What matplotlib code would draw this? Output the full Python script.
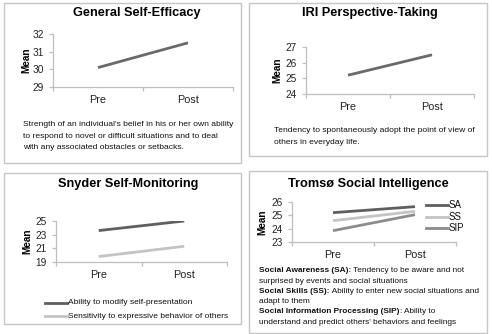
import matplotlib
matplotlib.use("Agg")
import matplotlib.pyplot as plt
from matplotlib.patches import Rectangle

plt.rcParams['font.family'] = ['Liberation Sans', 'DejaVu Sans']

W, H = 492, 334

# data
times = ["Pre", "Post"]

efficacy = [30.1, 31.5]
efficacy_ticks = [29, 30, 31, 32]

perspective = [25.2, 26.5]
perspective_ticks = [24, 25, 26, 27]

monitor_names = ["Ability to modify self-presentation",
                 "Sensitivity to expressive behavior of others"]
monitor_ability = [23.6, 25.0]
monitor_sensitivity = [19.8, 21.3]
monitor_ticks = [19, 21, 23, 25]

tromso_names = ["SA", "SS", "SIP"]
tromso_sa = [25.2, 25.65]
tromso_ss = [24.6, 25.3]
tromso_sip = [23.85, 25.05]
tromso_ticks = [23, 24, 25, 26]

titles = ["General Self-Efficacy", "IRI Perspective-Taking",
          "Snyder Self-Monitoring", "Tromsø Social Intelligence"]

efficacy_text = ["Strength of an individual's belief in his or her own ability",
                 "to respond to novel or difficult situations and to deal",
                 "with any associated obstacles or setbacks."]
perspective_text = ["Tendency to spontaneously adopt the point of view of",
                    "others in everyday life."]
tromso_text = [
    ("Social Awareness (SA):", " Tendency to be aware and not"),
    ("", "surprised by events and social situations"),
    ("Social Skills (SS):", " Ability to enter new social situations and"),
    ("", "adapt to them"),
    ("Social Information Processing (SIP)", ": Ability to"),
    ("", "understand and predict others' behaviors and feelings"),
]

DARK = "#5f5f5f"
MID = "#8c8c8c"
LIGHT = "#c4c4c4"
AXC = "#bfbfbf"


def fx(x):
    return x / W


def fy(y):
    return 1 - y / H


def box(x0, y0, x1, y1):
    fig.patches.append(Rectangle((fx(x0), fy(y1)), fx(x1) - fx(x0), fy(y0) - fy(y1),
                                 transform=fig.transFigure, fill=False,
                                 edgecolor="#c6c6c6", lw=1.0))


def make_axes(x0, y0, x1, y1, ticks, title_xy, mean_x):
    ax = fig.add_axes([fx(x0), fy(y1), fx(x1) - fx(x0), fy(y0) - fy(y1)])
    ax.set_xlim(-0.5, 1.5)
    ax.set_ylim(ticks[0], ticks[-1])
    ax.set_yticks(ticks)
    ax.set_xticks([0, 1])
    ax.set_xticklabels(times)
    ax.set_xticks([-0.5, 0.5, 1.5], minor=True)
    for s in ["top", "right"]:
        ax.spines[s].set_visible(False)
    for s in ["left", "bottom"]:
        ax.spines[s].set_color(AXC)
        ax.spines[s].set_linewidth(0.9)
    ax.tick_params(axis="x", which="major", length=0, pad=6, labelsize=7.8, colors="#222222")
    ax.tick_params(axis="x", which="minor", length=3, color=AXC, width=0.9)
    ax.tick_params(axis="y", length=3, color=AXC, width=0.9, pad=3.5, labelsize=7.3,
                   labelcolor="#222222")
    ax.patch.set_alpha(0)
    fig.text(fx(title_xy[0]), fy(title_xy[1]), title_xy[2], ha="center", va="center",
             fontsize=9.2, fontweight="bold")
    fig.text(fx(mean_x), fy((y0 + y1) / 2), "Mean", rotation=90, ha="center", va="center",
             fontsize=7.2, fontweight="bold")
    return ax


def text_lines(x, y, lines, step, size):
    for i, line in enumerate(lines):
        fig.text(fx(x), fy(y + i * step), line, ha="left", va="center", fontsize=size,
                 color="#111111")


fig = plt.figure(figsize=(W / 100, H / 100), dpi=100)

# panel 1
box(4, 3, 241, 163)
ax1 = make_axes(53, 34, 233, 87, efficacy_ticks, (137, 13, titles[0]), 26)
ax1.plot([0, 1], efficacy, color="#6a6a6a", lw=2.0, solid_capstyle="butt")
text_lines(23, 124, efficacy_text, 12, 6.1)

# panel 2
box(249, 3, 487, 156)
ax2 = make_axes(306, 47, 474, 94, perspective_ticks, (370, 13, titles[1]), 277)
ax2.plot([0, 1], perspective, color="#6a6a6a", lw=2.0, solid_capstyle="butt")
text_lines(274, 131, perspective_text, 12, 6.1)

# panel 3
box(4, 173, 241, 324)
ax3 = make_axes(56, 221, 227, 262, monitor_ticks, (128, 184, titles[2]), 27)
ax3.plot([0, 1], monitor_ability, color=DARK, lw=2.0, solid_capstyle="butt")
ax3.plot([0, 1], monitor_sensitivity, color=LIGHT, lw=2.0, solid_capstyle="butt")
for i, (name, col) in enumerate(zip(monitor_names, [DARK, LIGHT])):
    yy = 303 + i * 13
    fig.lines.append(plt.Line2D([fx(45), fx(67)], [fy(yy), fy(yy)], color=col, lw=2.0,
                                transform=fig.transFigure))
    fig.text(fx(68), fy(yy), name, ha="left", va="center", fontsize=6.0, color="#111111")

# panel 4
box(249, 171, 487, 333)
ax4 = make_axes(292, 202, 456, 242, tromso_ticks, (368, 184, titles[3]), 262)
for vals, col, name, i in zip([tromso_sa, tromso_ss, tromso_sip], [DARK, LIGHT, MID],
                              tromso_names, range(3)):
    ax4.plot([0, 1], vals, color=col, lw=2.0, solid_capstyle="butt")
    yy = 205 + i * 11.5
    fig.lines.append(plt.Line2D([fx(426), fx(448)], [fy(yy), fy(yy)], color=col, lw=2.0,
                                transform=fig.transFigure))
    fig.text(fx(449), fy(yy), name, ha="left", va="center", fontsize=7.0, color="#111111")

renderer = fig.canvas.get_renderer()
for i, (bold, rest) in enumerate(tromso_text):
    yy = 271 + i * 10.2
    x = fx(259)
    if bold:
        t = fig.text(x, fy(yy), bold, ha="left", va="center", fontsize=5.95,
                     fontweight="bold", color="#111111")
        bb = t.get_window_extent(renderer)
        x = bb.x1 / fig.bbox.width
    fig.text(x, fy(yy), rest, ha="left", va="center", fontsize=5.95, color="#111111")

fig.savefig("out.png", dpi=100)
